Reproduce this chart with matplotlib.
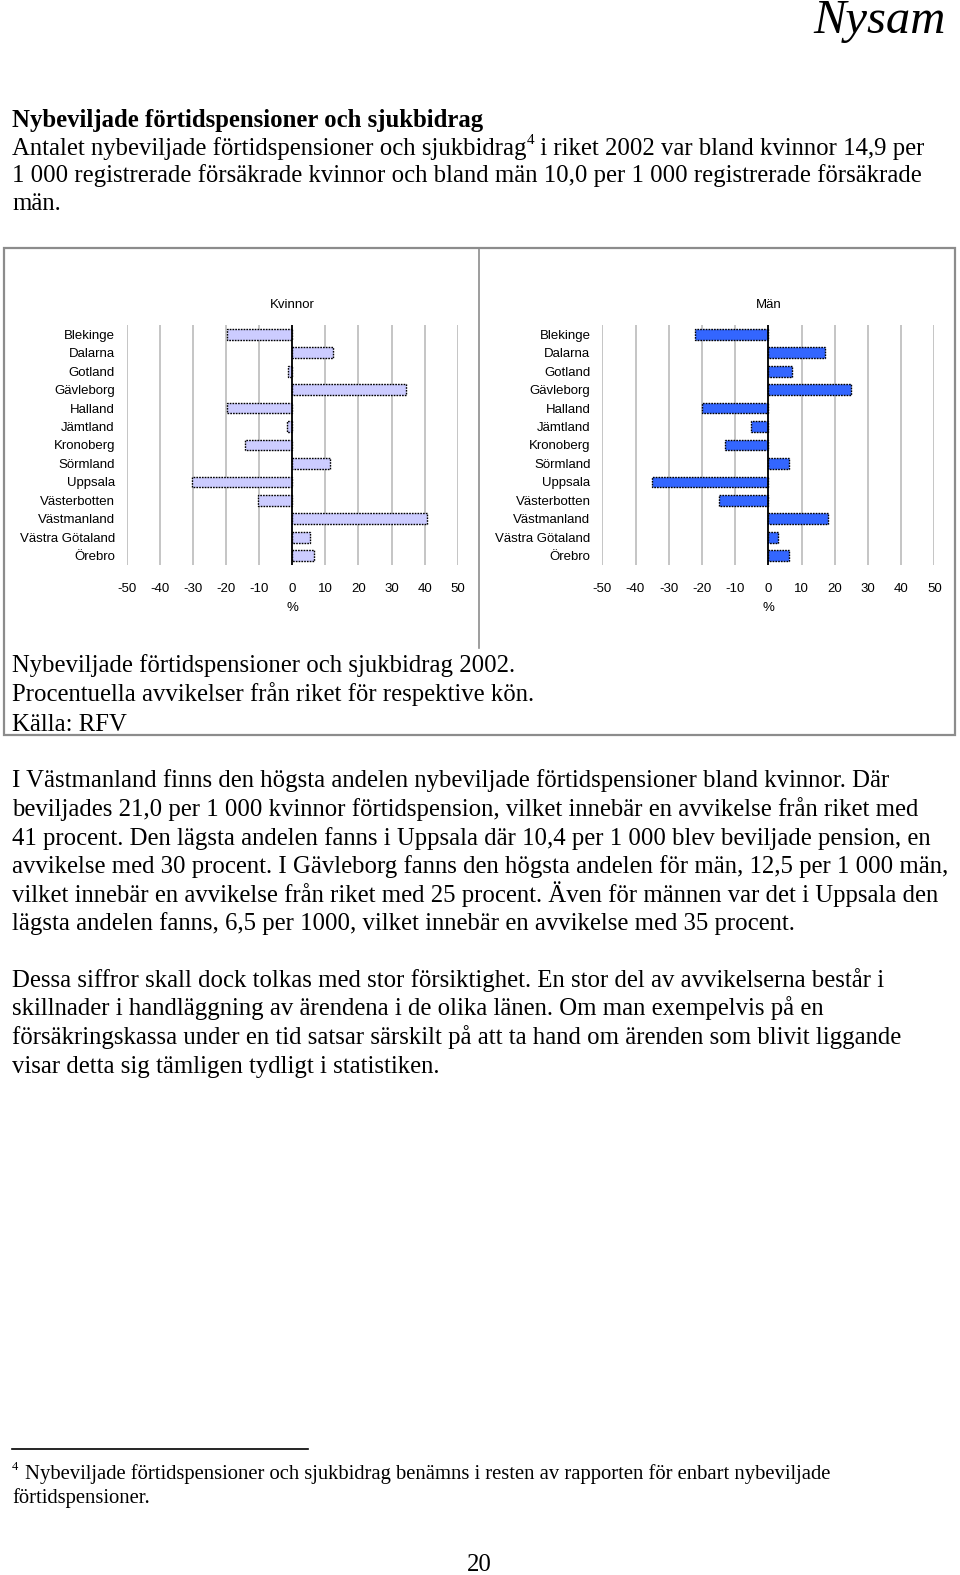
import matplotlib
matplotlib.use("Agg")
import matplotlib.pyplot as plt
from matplotlib.patches import Rectangle
from matplotlib.lines import Line2D

# ---------------- data ----------------
counties = ["Blekinge", "Dalarna", "Gotland", "Gävleborg", "Halland", "Jämtland",
            "Kronoberg", "Sörmland", "Uppsala", "Västerbotten", "Västmanland",
            "Västra Götaland", "Örebro"]
kvinnor = [-19.6, 12.4, -1.3, 34.3, -19.6, -1.7, -14.4, 11.4, -30.3, -10.2, 40.8, 5.3, 6.7]
man = [-22.0, 17.0, 7.0, 24.9, -20.0, -5.1, -13.0, 6.1, -35.0, -15.0, 17.9, 2.8, 6.1]
xticks = [-50, -40, -30, -20, -10, 0, 10, 20, 30, 40, 50]

W, H = 960, 1575
fig = plt.figure(figsize=(W / 100, H / 100), dpi=100)
fig.patch.set_facecolor("white")

SERIF = "Liberation Serif"
SANS = "Liberation Sans"
BODY = 17.8


def fx(x):
    return x / W


def fy(y):
    return 1 - y / H


def txt(x, y, s, **kw):
    kw.setdefault("family", SERIF)
    kw.setdefault("fontsize", BODY)
    kw.setdefault("va", "baseline")
    return fig.text(fx(x), fy(y), s, **kw)


renderer = fig.canvas.get_renderer()

# header
txt(946, 33, "Nysam", fontsize=35, style="italic", ha="right")
txt(12, 126.5, "Nybeviljade förtidspensioner och sjukbidrag", fontweight="bold")
t1 = txt(12, 154.5, "Antalet nybeviljade förtidspensioner och sjukbidrag")
bb = t1.get_window_extent(renderer)
t2 = fig.text(bb.x1 / W, fy(154.5) + 10 / H, "4", family=SERIF, fontsize=11, va="baseline")
bb2 = t2.get_window_extent(renderer)
fig.text(bb2.x1 / W, fy(154.5), " i riket 2002 var bland kvinnor 14,9 per",
         family=SERIF, fontsize=BODY, va="baseline")
txt(12, 182, "1 000 registrerade försäkrade kvinnor och bland män 10,0 per 1 000 registrerade försäkrade")
txt(12, 210.5, "män.")

# box
box_col = "#8c8c8c"
fig.add_artist(Rectangle((fx(4), fy(735)), fx(951), (735 - 248) / H,
                         transform=fig.transFigure, fill=False, edgecolor=box_col, lw=1.6))
fig.add_artist(Line2D([fx(478.5), fx(478.5)], [fy(248), fy(648)],
                      transform=fig.transFigure, color=box_col, lw=1.2))


def make_chart(left, right, values, color, title):
    ax = fig.add_axes([fx(left), fy(565), (right - left) / W, (565 - 325) / H])
    ypos = list(range(len(counties)))
    ax.barh(ypos, values, height=0.58, color=color, edgecolor="black",
            linewidth=1.0, linestyle=(0, (1.2, 0.8)), zorder=3)
    ax.set_xlim(-50, 50)
    ax.set_ylim(len(counties) - 0.5, -0.5)
    ax.set_xticks(xticks)
    ax.set_xticklabels([str(v) for v in xticks], family=SANS, fontsize=9.5)
    ax.set_yticks(ypos)
    ax.set_yticklabels(counties, family=SANS, fontsize=9.5)
    ax.tick_params(axis="both", length=0)
    ax.tick_params(axis="x", pad=13)
    ax.tick_params(axis="y", pad=8.5)
    for sp in ax.spines.values():
        sp.set_visible(False)
    ax.grid(axis="x", color="#c0c0c0", lw=1.3, zorder=0)
    ax.axvline(0, color="black", lw=1.3, zorder=4)
    ax.set_xlabel("%", family=SANS, fontsize=9.5, labelpad=5)
    ax.set_title(title, family=SANS, fontsize=9.5, pad=12)
    ax.set_facecolor("none")
    return ax


make_chart(126.7, 457.7, kvinnor, "#ccccff", "Kvinnor")
make_chart(602.3, 934.3, man, "#3366ff", "Män")

# caption
txt(12, 672, "Nybeviljade förtidspensioner och sjukbidrag 2002.")
txt(12, 701, "Procentuella avvikelser från riket för respektive kön.")
txt(12, 731, "Källa: RFV")

# body text
body = [
    (787, "I Västmanland finns den högsta andelen nybeviljade förtidspensioner bland kvinnor. Där"),
    (816, "beviljades 21,0 per 1 000 kvinnor förtidspension, vilket innebär en avvikelse från riket med"),
    (844.5, "41 procent. Den lägsta andelen fanns i Uppsala där 10,4 per 1 000 blev beviljade pension, en"),
    (873, "avvikelse med 30 procent. I Gävleborg fanns den högsta andelen för män, 12,5 per 1 000 män,"),
    (901.5, "vilket innebär en avvikelse från riket med 25 procent. Även för männen var det i Uppsala den"),
    (930, "lägsta andelen fanns, 6,5 per 1000, vilket innebär en avvikelse med 35 procent."),
    (987, "Dessa siffror skall dock tolkas med stor försiktighet. En stor del av avvikelserna består i"),
    (1015.5, "skillnader i handläggning av ärendena i de olika länen. Om man exempelvis på en"),
    (1044, "försäkringskassa under en tid satsar särskilt på att ta hand om ärenden som blivit liggande"),
    (1072.5, "visar detta sig tämligen tydligt i statistiken."),
]
for y, s in body:
    txt(12, y, s)

# footnote
fig.add_artist(Line2D([fx(12), fx(308)], [fy(1449), fy(1449)],
                      transform=fig.transFigure, color="black", lw=1.2))
txt(12, 1470, "4", fontsize=9)
txt(25, 1479, "Nybeviljade förtidspensioner och sjukbidrag benämns i resten av rapporten för enbart nybeviljade",
    fontsize=14.9)
txt(12, 1503, "förtidspensioner.", fontsize=14.9)

txt(479, 1571, "20", ha="center")

fig.savefig("out.png", dpi=100, facecolor="white")
